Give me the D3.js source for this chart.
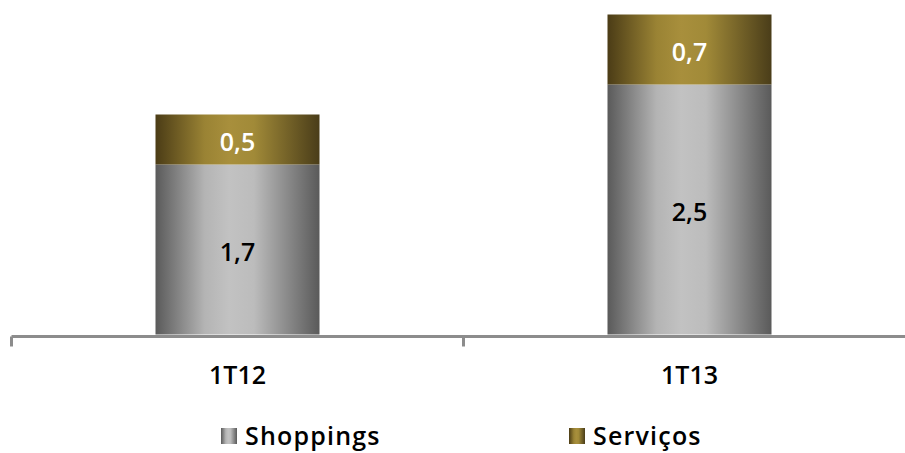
<!DOCTYPE html>
<html>
<head>
<meta charset="utf-8">
<script src="https://cdn.jsdelivr.net/npm/d3@7"></script>
<style>
  html, body { margin: 0; padding: 0; background: #ffffff; }
  svg { display: block; }
</style>
</head>
<body>
<div id="chart"></div>
<script>
// Quarterly values (stacked): Shoppings at the base, Serviços on top
const categories = ["1T12", "1T13"];
const shoppings = [1.7, 2.5];
const servicos = [0.5, 0.7];
const seriesNames = ["Shoppings", "Serviços"];

const width = 905, height = 453;
const svg = d3.select("#chart").append("svg")
  .attr("width", width).attr("height", height);

// Cylinder-like horizontal gradients for each series
const defs = svg.append("defs");
function cylinder(id, stops) {
  const g = defs.append("linearGradient").attr("id", id)
    .attr("x1", "0%").attr("x2", "100%").attr("y1", "0%").attr("y2", "0%");
  stops.forEach(([o, c]) => g.append("stop").attr("offset", o).attr("stop-color", c));
}
cylinder("grad-shop", [[0, "#5a5a5a"], [0.3, "#b4b4b4"], [0.45, "#c2c2c2"], [0.6, "#bcbcbc"], [1, "#5a5a5a"]]);
cylinder("grad-serv", [[0, "#4b3c16"], [0.3, "#9a8334"], [0.45, "#a88f3c"], [0.6, "#a18a38"], [1, "#4a3d19"]]);

const fills = ["url(#grad-shop)", "url(#grad-serv)"];
const labelColors = ["#000000", "#ffffff"];

// Scales
const x = d3.scaleBand().domain(categories).range([11.5, 915.5]).paddingInner(0).paddingOuter(0);
const barW = 164;
const y = d3.scaleLinear().domain([0, 3.2]).range([334.5, 14.5]);

const rows = categories.map((c, i) => ({ cat: c, Shoppings: shoppings[i], "Serviços": servicos[i] }));
const stack = d3.stack().keys(seriesNames);
const layers = stack(rows);

const fmt = v => d3.format(".1f")(v).replace(".", ",");

layers.forEach((layer, li) => {
  const g = svg.append("g");
  g.selectAll("rect").data(layer).join("rect")
    .attr("x", d => x(d.data.cat) + x.bandwidth() / 2 - barW / 2)
    .attr("width", barW)
    .attr("y", d => y(d[1]))
    .attr("height", d => y(d[0]) - y(d[1]))
    .attr("fill", fills[li]);
  g.selectAll("text").data(layer).join("text")
    .attr("x", d => x(d.data.cat) + x.bandwidth() / 2)
    .attr("y", d => (y(d[0]) + y(d[1])) / 2 + 11)
    .attr("text-anchor", "middle")
    .attr("font-family", "'Open Sans', sans-serif")
    .attr("font-weight", 600)
    .attr("font-size", 25)
    .attr("fill", labelColors[li])
    .text(d => fmt(d[1] - d[0]));
});

// Category axis with ticks at band boundaries
const axisY = 336.5;
const axisG = svg.append("g");
axisG.append("line")
  .attr("x1", x.range()[0]).attr("x2", width)
  .attr("y1", axisY).attr("y2", axisY)
  .attr("stroke", "#8c8c8c").attr("stroke-width", 3);
const boundaries = categories.map(c => x(c)).concat([x.range()[1]]);
axisG.selectAll("line.tick").data(boundaries).join("line")
  .attr("class", "tick")
  .attr("x1", d => d).attr("x2", d => d)
  .attr("y1", axisY).attr("y2", 346.5)
  .attr("stroke", "#8c8c8c").attr("stroke-width", 3);
axisG.selectAll("text").data(categories).join("text")
  .attr("x", d => x(d) + x.bandwidth() / 2)
  .attr("y", 384)
  .attr("text-anchor", "middle")
  .attr("font-family", "'Open Sans', sans-serif")
  .attr("font-weight", 600)
  .attr("font-size", 25)
  .attr("fill", "#000")
  .text(d => d);

// Legend
const legendX = [221, 569];
const legend = svg.append("g");
seriesNames.forEach((name, i) => {
  legend.append("rect")
    .attr("x", legendX[i]).attr("y", 428)
    .attr("width", 16).attr("height", 16)
    .attr("fill", fills[i]);
  legend.append("text")
    .attr("x", legendX[i] + 24).attr("y", 445)
    .attr("font-family", "'Open Sans', sans-serif")
    .attr("font-weight", 600)
    .attr("font-size", 25)
    .attr("letter-spacing", 1.2)
    .attr("fill", "#000")
    .text(name);
});
</script>
</body>
</html>
